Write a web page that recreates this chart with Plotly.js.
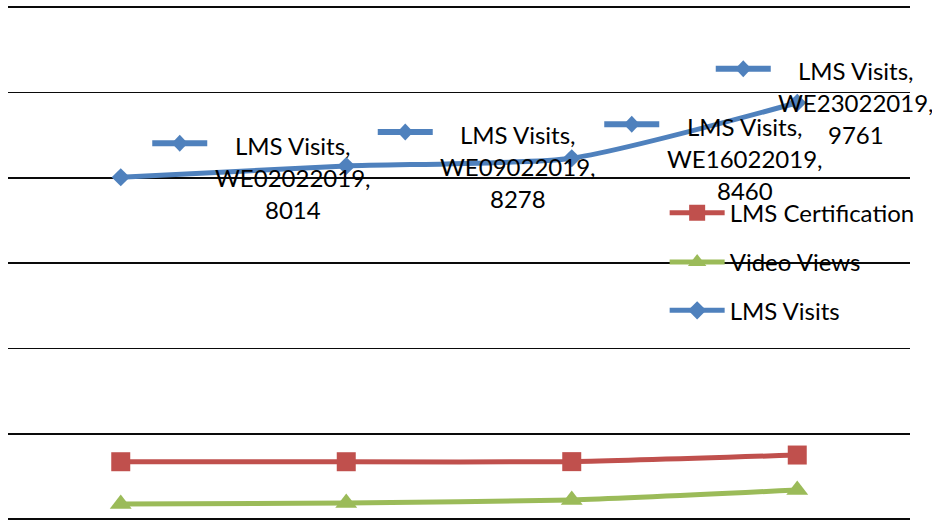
<!DOCTYPE html>
<html>
<head>
<meta charset="utf-8">
<script src="https://cdn.plot.ly/plotly-3.0.1.min.js"></script>
<style>html,body{margin:0;padding:0;background:#fff;}#chart{width:932px;height:522px;}</style>
</head>
<body>
<div id="chart"></div>
<script>
// ---- data ----
var weeks = ["WE02022019", "WE09022019", "WE16022019", "WE23022019"];
var lmsVisits = [8014, 8278, 8460, 9761];
var lmsCertification = [1343, 1343, 1345, 1500];
var videoViews = [352, 375, 445, 680];
var seriesNames = ["LMS Visits", "LMS Certification", "Video Views"];

// ---- styling ----
var FONT = "Lato, 'Open Sans', sans-serif";
var FS = 24;
var BLUE = "#4F81BD", RED = "#C0504D", GREEN = "#9BBB59";

// label placement (pixel offsets from each point)
var labelDx = [172, 172, 173, 59];
var lineGap = 32;
var keyDx = -113, keyDy = 34, keyHalf = 27.5;

var traces = [
  {x: weeks, y: lmsCertification, name: seriesNames[1], type: "scatter", mode: "lines+markers",
   line: {color: RED, width: 5, shape: "spline", smoothing: 0.6},
   marker: {symbol: "square", size: 19, color: RED}, legend: "legend", hoverinfo: "skip"},
  {x: weeks, y: videoViews, name: seriesNames[2], type: "scatter", mode: "lines+markers",
   line: {color: GREEN, width: 5, shape: "spline", smoothing: 0.6},
   marker: {symbol: "triangle-up", size: 19, color: GREEN}, legend: "legend2", hoverinfo: "skip"},
  {x: weeks, y: lmsVisits, name: seriesNames[0], type: "scatter", mode: "lines+markers",
   line: {color: BLUE, width: 5, shape: "spline", smoothing: 0.6},
   marker: {symbol: "diamond", size: 14, color: BLUE}, legend: "legend3", hoverinfo: "skip"}
];

var annotations = [];
var shapes = [];
weeks.forEach(function (w, i) {
  var lines = [seriesNames[0] + ",", w + ",", String(lmsVisits[i])];
  lines.forEach(function (t, k) {
    annotations.push({
      x: w, y: lmsVisits[i], xref: "x", yref: "y", text: t, showarrow: false,
      xshift: labelDx[i], yshift: lineGap * (1 - k), xanchor: "center", yanchor: "middle",
      font: {family: FONT, size: FS, color: "#000"}
    });
  });
  var cx = labelDx[i] + keyDx;
  shapes.push({
    type: "line", xref: "x", yref: "y", xsizemode: "pixel", ysizemode: "pixel",
    xanchor: w, yanchor: lmsVisits[i],
    x0: cx - keyHalf, x1: cx + keyHalf, y0: keyDy, y1: keyDy,
    line: {color: BLUE, width: 6}
  });
  shapes.push({
    type: "path", xref: "x", yref: "y", xsizemode: "pixel", ysizemode: "pixel",
    xanchor: w, yanchor: lmsVisits[i],
    path: "M" + (cx - 8) + "," + keyDy + " L" + cx + "," + (keyDy + 8.5) + " L" + (cx + 8) + "," + keyDy + " L" + cx + "," + (keyDy - 8.5) + " Z",
    fillcolor: BLUE, line: {width: 0}
  });
});

function legendAt(y) {
  return {x: 0.728, y: y, xanchor: "left", yanchor: "middle", bgcolor: "rgba(0,0,0,0)",
          borderwidth: 0, itemwidth: 55, font: {family: FONT, size: FS, color: "#000"}};
}

var layout = {
  width: 932, height: 522,
  margin: {l: 8, r: 22, t: 6, b: 3},
  paper_bgcolor: "#fff", plot_bgcolor: "#fff",
  showlegend: true,
  xaxis: {type: "category", range: [-0.5, 3.5], showgrid: false, zeroline: false,
          showticklabels: false, ticks: "", showline: false, fixedrange: true},
  yaxis: {range: [0, 12030], dtick: 2000, showgrid: true, gridcolor: "#0a0a0a", gridwidth: 1.8,
          zeroline: true, zerolinecolor: "#0a0a0a", zerolinewidth: 1.8,
          showticklabels: false, ticks: "", showline: false, fixedrange: true},
  legend: legendAt(0.596),
  legend2: legendAt(0.5),
  legend3: legendAt(0.406),
  annotations: annotations,
  shapes: shapes,
  hovermode: false
};

Plotly.newPlot("chart", traces, layout, {displayModeBar: false, staticPlot: true});
</script>
</body>
</html>
